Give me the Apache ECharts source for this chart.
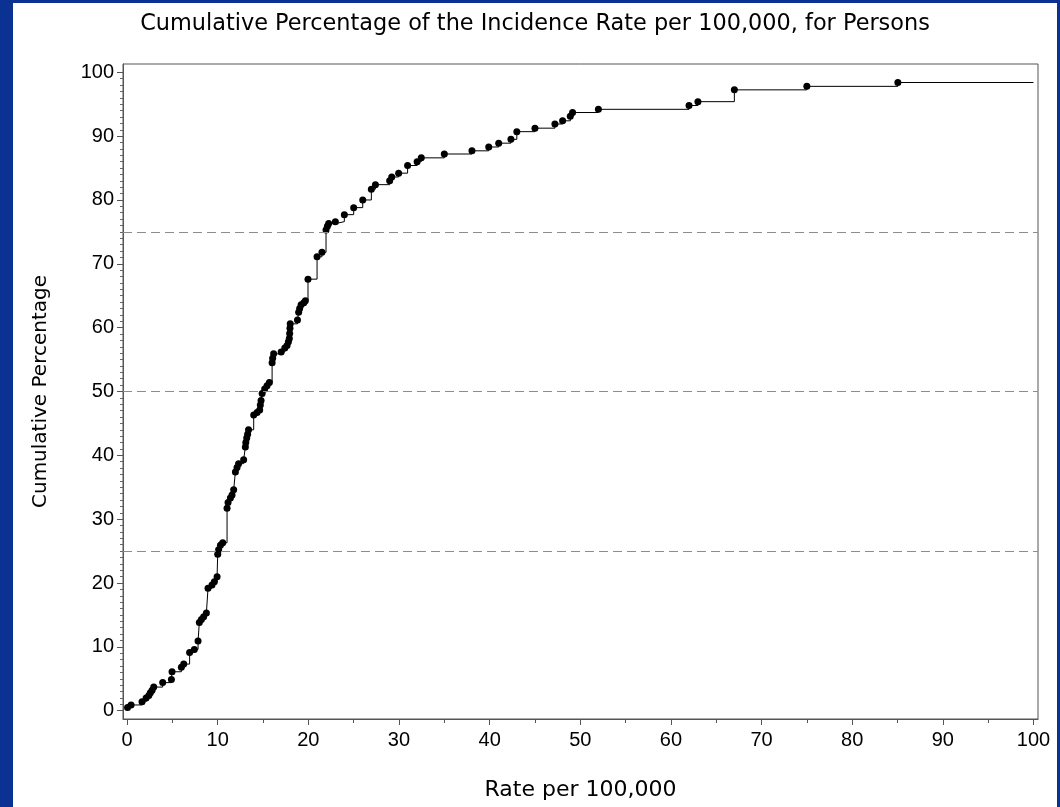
<!DOCTYPE html>
<html>
<head>
<meta charset="utf-8">
<title>Cumulative Percentage of the Incidence Rate</title>
<script src="https://cdn.jsdelivr.net/npm/echarts@6/dist/echarts.min.js"></script>
<style>
  html, body { margin: 0; padding: 0; width: 1060px; height: 807px; overflow: hidden; background: #0b3192; }
  #chart { position: absolute; left: 13px; top: 3px; width: 1044px; height: 804px; background: #ffffff; }
</style>
</head>
<body>
<div id="chart"></div>
<script>
// Incidence rate per 100,000 (sorted) and the cumulative percentage reached at each rate
const rates = [
  0.05, 0.44, 1.65, 2.1, 2.4, 2.57, 2.76, 2.94, 3.93, 4.89, 4.96, 5.99, 6.25, 6.9, 7.42, 7.83,
  7.97, 8.2, 8.45, 8.75, 8.93, 9.37, 9.63, 9.93, 10.0, 10.1, 10.3, 10.55, 11.03, 11.14, 11.4,
  11.58, 11.76, 11.95, 12.13, 12.3, 12.86, 13.05, 13.1, 13.2, 13.3, 13.4, 13.97, 14.34, 14.63,
  14.7, 14.78, 14.9, 15.18, 15.44, 15.7, 16.0, 16.06, 16.17, 17.0, 17.4, 17.65, 17.8, 17.9,
  17.94, 17.97, 18.0, 18.8, 18.93, 19.04, 19.2, 19.5, 19.67, 19.96, 20.96, 21.5, 21.95, 22.1,
  22.24, 22.98, 23.97, 25.0, 26.0, 26.95, 27.4, 28.97, 29.2, 29.96, 30.95, 32.0, 32.46, 35.0,
  38.05, 39.9, 41.0, 42.35, 43.0, 45.0, 47.2, 48.05, 48.9, 49.15, 52.0, 62.0, 62.98, 67.0,
  75.0, 85.04
];
const cumPct = [
  0.5, 0.9, 1.4, 2.0, 2.4, 2.8, 3.2, 3.7, 4.4, 4.9, 6.1, 6.8, 7.3, 9.1, 9.6, 10.9,
  13.8, 14.3, 14.7, 15.3, 19.2, 19.7, 20.2, 21.0, 24.5, 25.2, 25.9, 26.3, 31.7, 32.6, 33.3,
  33.8, 34.6, 37.4, 38.1, 38.7, 39.3, 41.3, 42.0, 42.7, 43.3, 44.0, 46.3, 46.7, 47.1,
  47.9, 48.6, 49.7, 50.4, 50.9, 51.4, 54.5, 55.2, 55.9, 56.2, 56.8, 57.2, 57.8, 58.3,
  59.1, 59.9, 60.6, 61.2, 62.4, 63.0, 63.6, 63.9, 64.2, 67.6, 71.1, 71.8, 75.3, 75.9,
  76.3, 76.6, 77.7, 78.8, 80.0, 81.7, 82.4, 83.0, 83.6, 84.2, 85.4, 86.0, 86.6, 87.2,
  87.7, 88.3, 88.9, 89.5, 90.7, 91.25, 91.9, 92.4, 93.1, 93.7, 94.2, 94.8, 95.4, 97.25,
  97.8, 98.4
];
// the last level carries on to the end of the rate axis
const axisEnd = 100;

// quartile reference levels
const refLevels = [25, 50, 75];

// tick values
const xMajorTicks = [0, 10, 20, 30, 40, 50, 60, 70, 80, 90, 100];
const xMinorTicks = [5, 15, 25, 35, 45, 55, 65, 75, 85, 95];
const yMajorTicks = [0, 10, 20, 30, 40, 50, 60, 70, 80, 90, 100];
const yMinorTicks = [];
for (let v = 1; v < 100; v++) { if (v % 10 !== 0) yMinorTicks.push(v); }

const NUM_FONT = '"Liberation Sans", Arial, Helvetica, sans-serif';
const TEXT_FONT = '"DejaVu Sans", Verdana, sans-serif';

const points = rates.map((r, i) => [r, cumPct[i]]);
points.push({ value: [axisEnd, cumPct[cumPct.length - 1]], symbol: 'none' });

const xRange = { min: -0.45, max: 100.5 };
const yRange = { min: -1.3, max: 101.3 };

const chart = echarts.init(document.getElementById('chart'), null, { renderer: 'canvas' });

chart.setOption({
  animation: false,
  backgroundColor: '#ffffff',
  title: {
    text: 'Cumulative Percentage of the Incidence Rate per 100,000, for Persons',
    left: 'center',
    top: 5,
    textStyle: { fontFamily: TEXT_FONT, fontSize: 22.4, fontWeight: 'normal', color: '#000' }
  },
  grid: {
    left: 110, right: 19, top: 61, bottom: 88,
    show: true, borderColor: '#555', borderWidth: 1, backgroundColor: 'transparent'
  },
  xAxis: [
    {
      type: 'value', min: xRange.min, max: xRange.max,
      name: 'Rate per 100,000', nameLocation: 'middle', nameGap: 60,
      nameTextStyle: { fontFamily: TEXT_FONT, fontSize: 22, color: '#000' },
      axisLine: { show: true, onZero: false, lineStyle: { color: '#555', width: 1 } },
      axisTick: { show: true, inside: false, length: 6, lineStyle: { color: '#555' }, customValues: xMajorTicks },
      axisLabel: { fontFamily: NUM_FONT, fontSize: 20, color: '#000', margin: 11, customValues: xMajorTicks },
      splitLine: { show: false }
    },
    {
      type: 'value', min: xRange.min, max: xRange.max, position: 'bottom',
      axisLine: { show: false, onZero: false },
      axisTick: { show: true, inside: false, length: 4, lineStyle: { color: '#555' }, customValues: xMinorTicks },
      axisLabel: { show: false },
      splitLine: { show: false }
    }
  ],
  yAxis: [
    {
      type: 'value', min: yRange.min, max: yRange.max,
      name: 'Cumulative Percentage', nameLocation: 'middle', nameGap: 72, nameRotate: 90,
      nameTextStyle: { fontFamily: TEXT_FONT, fontSize: 20, color: '#000' },
      axisLine: { show: true, onZero: false, lineStyle: { color: '#555', width: 1 } },
      axisTick: { show: true, inside: false, length: 6, lineStyle: { color: '#555' }, customValues: yMajorTicks },
      axisLabel: { fontFamily: NUM_FONT, fontSize: 20, color: '#000', margin: 9, customValues: yMajorTicks },
      splitLine: { show: false }
    },
    {
      type: 'value', min: yRange.min, max: yRange.max, position: 'left',
      axisLine: { show: false, onZero: false },
      axisTick: { show: true, inside: false, length: 3, lineStyle: { color: '#666' }, customValues: yMinorTicks },
      axisLabel: { show: false },
      splitLine: { show: false }
    }
  ],
  series: [
    {
      type: 'line',
      xAxisIndex: 0, yAxisIndex: 0,
      step: 'end',
      data: points,
      symbol: 'circle',
      symbolSize: 7,
      showAllSymbol: true,
      itemStyle: { color: '#000' },
      lineStyle: { color: '#000', width: 1 },
      z: 3,
      markLine: {
        silent: true,
        symbol: 'none',
        label: { show: false },
        lineStyle: { color: '#8c8c8c', width: 1, type: [9, 5] },
        data: refLevels.map(v => ({ yAxis: v }))
      }
    }
  ]
});
</script>
</body>
</html>
